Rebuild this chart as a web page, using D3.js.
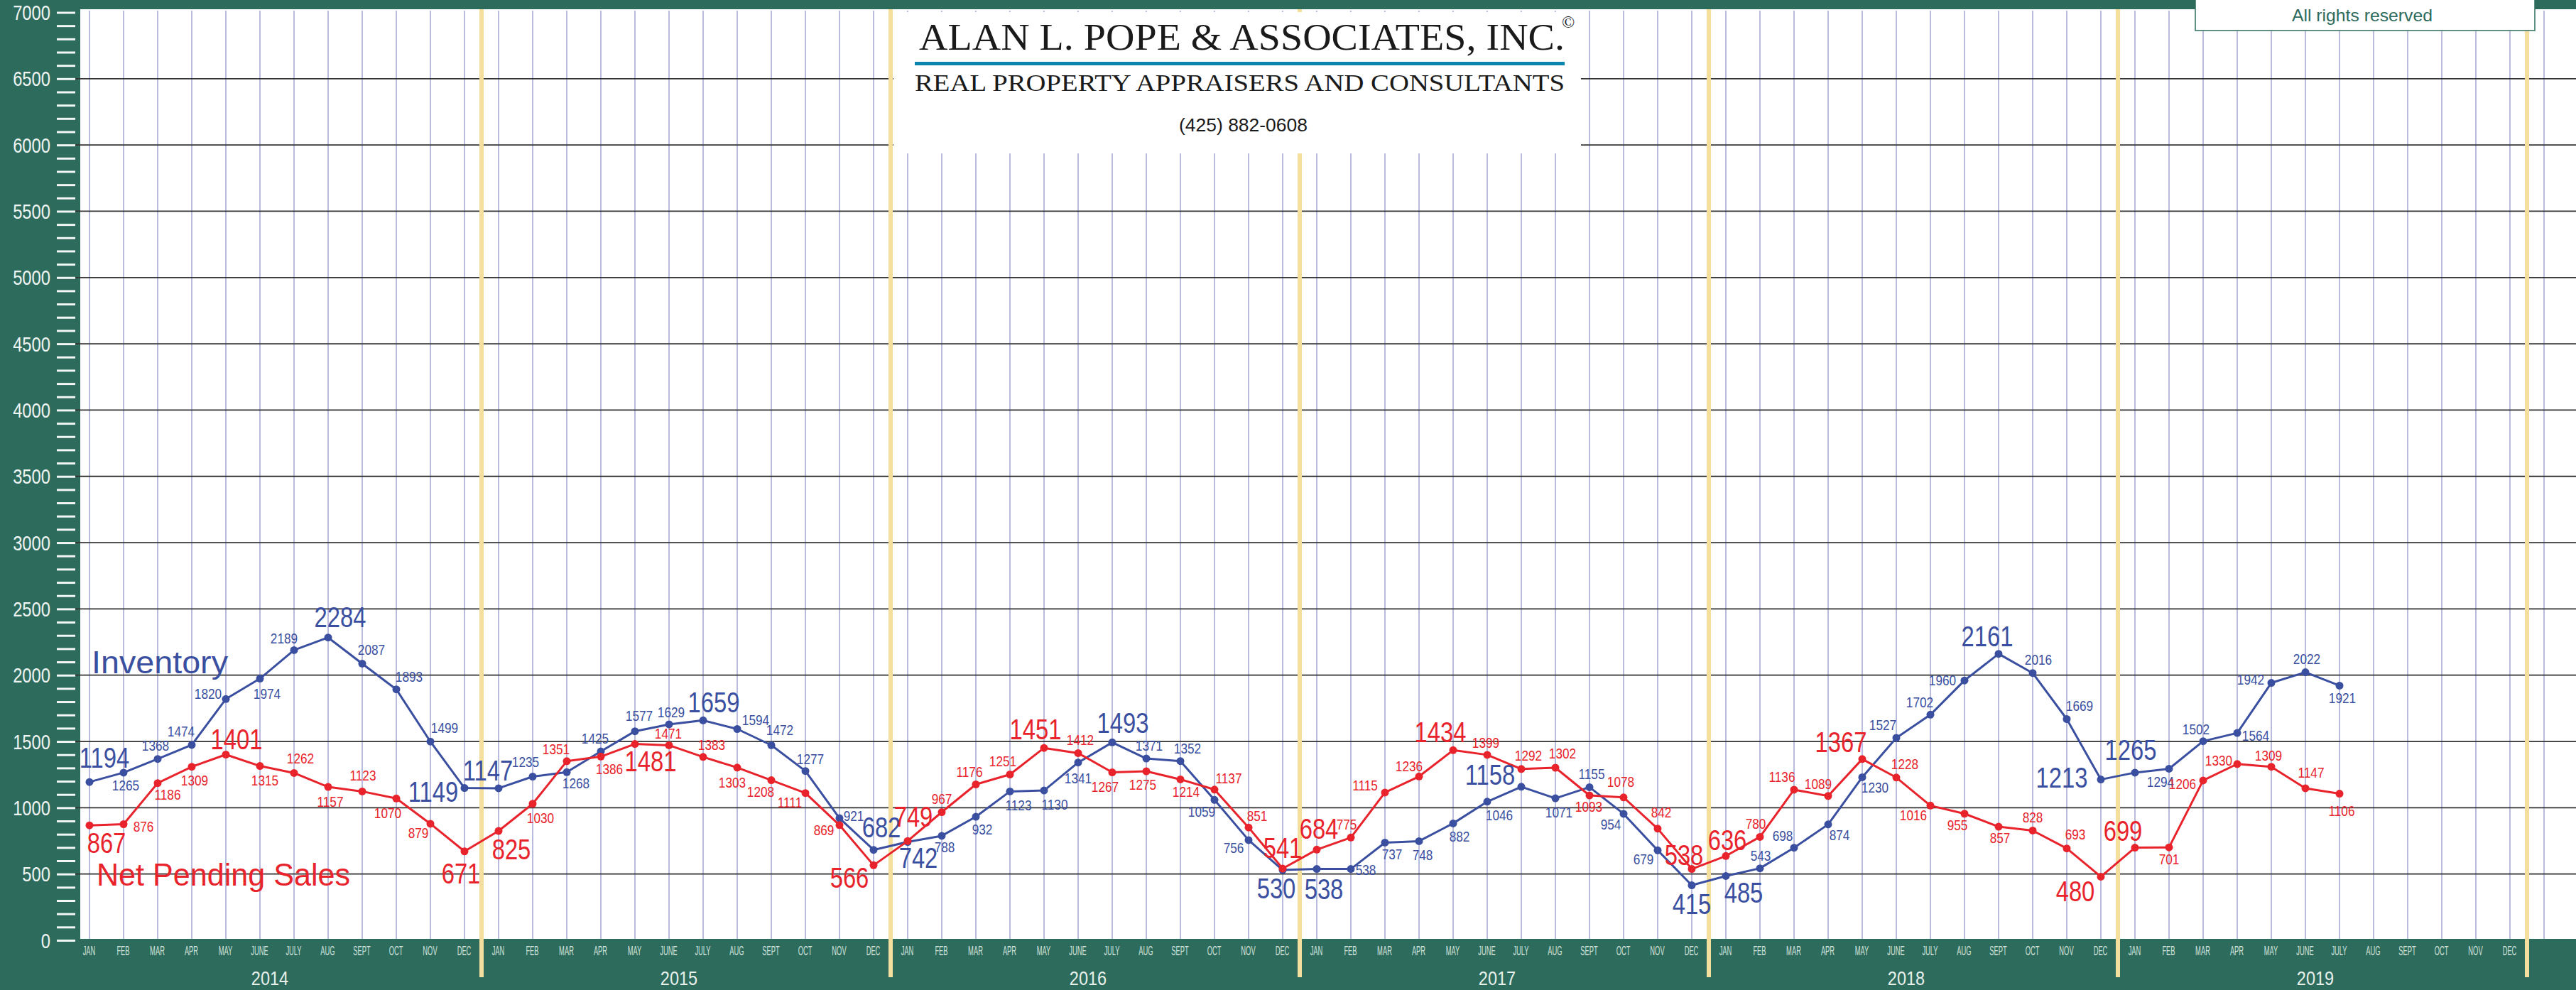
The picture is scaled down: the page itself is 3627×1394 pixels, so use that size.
<!DOCTYPE html>
<html><head><meta charset="utf-8">
<script src="https://cdn.jsdelivr.net/npm/d3@7"></script>
<style>html,body{margin:0;padding:0;background:#2d6b5c;overflow:hidden}svg{display:block}</style>
</head><body>
<svg id="chart" width="3627" height="1394"></svg>
<script>
// ---------------- DATA ----------------
const years = ["2014", "2015", "2016", "2017", "2018", "2019"];
const monthNames = ["JAN","FEB","MAR","APR","MAY","JUNE","JULY","AUG","SEPT","OCT","NOV","DEC"];
const yTickValues = d3.range(0, 7001, 100);
const yLabelValues = d3.range(0, 7001, 500);

// Inventory, Jan 2014 - Jul 2019
const inventory = [
  1194,1265,1368,1474,1820,1974,2189,2284,2087,1893,1499,1149,
  1147,1235,1268,1425,1577,1629,1659,1594,1472,1277,921,682,
  742,788,932,1123,1130,1341,1493,1371,1352,1059,756,530,
  538,538,737,748,882,1046,1158,1071,1155,954,679,415,
  485,543,698,874,1230,1527,1702,1960,2161,2016,1669,1213,
  1265,1294,1502,1564,1942,2022,1921
];
// Net Pending Sales, Jan 2014 - Jul 2019
const netPending = [
  867,876,1186,1309,1401,1315,1262,1157,1123,1070,879,671,
  825,1030,1351,1386,1481,1471,1383,1303,1208,1111,869,566,
  749,967,1176,1251,1451,1412,1267,1275,1214,1137,851,541,
  684,775,1115,1236,1434,1399,1292,1302,1093,1078,842,538,
  636,780,1136,1089,1367,1228,1016,955,857,828,693,480,
  699,701,1206,1330,1309,1147,1106
];
// months whose value label is printed large
const inventoryBig = [0,7,11,12,18,23,24,30,35,36,42,47,48,56,59,60];
const netPendingBig = [0,4,11,12,16,23,24,28,35,36,40,47,48,52,59,60];

// ---------------- LABEL LAYOUT (offsets from the point) ----------------
const inventoryLabelOffsets = [
  [21,-20],[3,25],[-3,-12],[-15,-12],[-25,0],[10,28],[-14,-9],[17,-15],[13,-12],[18,-11],[20,-12],[-44,19],
  [-15,-11],[-10,-13],[13,23],[-8,-11],[6,-15],[3,-10],[15,-11],[26,-5],[12,-14],[7,-10],[20,4],[11,-18],
  [15,36],[4,23],[9,25],[12,27],[15,27],[0,29],[15,-13],[4,-11],[10,-11],[-18,24],[-21,18],[-9,40],
  [10,42],[21,8],[10,24],[5,27],[9,26],[17,26],[-44,-3],[5,27],[3,-11],[-18,22],[-20,20],[0,40],
  [25,38],[1,-11],[-16,-10],[16,22],[18,22],[-19,-11],[-15,-10],[-31,7],[-16,-11],[8,-12],[18,-11],[-55,11],
  [-6,-18],[-12,26],[-10,-10],[26,11],[-29,2],[2,-12],[4,25]
];
const netPendingLabelOffsets = [
  [24,39],[28,10],[14,23],[4,26],[15,-8],[7,27],[9,-13],[3,28],[1,-15],[-12,28],[-17,20],[-5,45],
  [18,40],[11,27],[-15,-10],[12,25],[22,38],[-1,-9],[12,-10],[-7,28],[-15,23],[-22,20],[-22,14],[-34,32],
  [8,-20],[0,-12],[-9,-11],[-10,-12],[-12,-12],[3,-11],[-10,27],[-5,26],[8,25],[20,-9],[12,-9],[0,-15],
  [3,-15],[-6,-11],[-28,-3],[-14,-7],[-18,-11],[-2,-10],[10,-12],[10,-13],[-1,23],[-4,-15],[5,-16],[-11,-6],
  [2,-8],[-6,-11],[-17,-11],[-14,-10],[-30,-10],[12,-12],[-24,21],[-10,23],[2,23],[0,-11],[12,-13],[-36,35],
  [-17,-10],[0,24],[-29,12],[-26,2],[-4,-9],[8,-15],[3,31]
];

// ---------------- STYLE ----------------
const W = 3627, H = 1394;
const GREEN = "#2d6b5c";
const BLUE = "#3a4fa0";
const RED = "#e8232b";
const YELLOW = "#f5df9f";
const GRIDV = "#a7abd6";
const SANS = "'Liberation Sans', Arial, sans-serif";
const SERIF = "'Liberation Serif', 'Times New Roman', serif";
const plotLeft = 113, plotTop = 13, plotBottom = 1322;

const svg = d3.select("#chart");
const nMonths = years.length * 12;

const x = d3.scaleLinear().domain([0, nMonths - 1]).range([126, 3534]);
const y = d3.scaleLinear().domain([0, 7000]).range([1324, 17.5]);

// background
svg.append("rect").attr("width", W).attr("height", H).attr("fill", GREEN);
svg.append("rect").attr("x", plotLeft).attr("y", plotTop)
  .attr("width", W - plotLeft).attr("height", plotBottom - plotTop).attr("fill", "#fff");

// vertical month grid
svg.append("g").selectAll("line").data(d3.range(0, nMonths + 1)).join("line")
  .attr("x1", d => x(d)).attr("x2", d => x(d))
  .attr("y1", 15).attr("y2", plotBottom)
  .attr("stroke", GRIDV).attr("stroke-width", 1.6);

// horizontal grid
svg.append("g").selectAll("line").data(yLabelValues.filter(v => v > 0 && v < 7000)).join("line")
  .attr("x1", 105).attr("x2", W)
  .attr("y1", d => y(d)).attr("y2", d => y(d))
  .attr("stroke", "#333").attr("stroke-width", 1.8);

// year separators
svg.append("g").selectAll("line").data(d3.range(1, years.length + 1)).join("line")
  .attr("x1", d => x(d * 12 - 0.5)).attr("x2", d => x(d * 12 - 0.5))
  .attr("y1", plotTop).attr("y2", 1376)
  .attr("stroke", YELLOW).attr("stroke-width", 6);

// bottom axis: month labels
const xAxis = d3.axisBottom(x)
  .tickValues(d3.range(0, nMonths))
  .tickSize(0)
  .tickFormat(i => monthNames[i % 12]);
const gx = svg.append("g").attr("transform", `translate(0,${plotBottom})`).call(xAxis);
gx.select(".domain").remove();
gx.selectAll("text")
  .attr("y", null).attr("dy", null)
  .attr("transform", "translate(-1,23) scale(0.52,1)")
  .attr("font-family", SANS).attr("font-size", 18).attr("fill", "#d3e3dd");

// year labels
svg.append("g").selectAll("text").data(years).join("text")
  .attr("transform", (d, k) => `translate(${(x(k * 12) + x(k * 12 + 11)) / 2 - 10},1387) scale(0.84,1)`)
  .attr("text-anchor", "middle").attr("font-family", SANS).attr("font-size", 28)
  .attr("fill", "#e8f0ec").text(d => d);

// left axis
const yAxis = d3.axisLeft(y).tickValues(yTickValues).tickSize(26)
  .tickFormat(v => v % 500 === 0 ? String(v) : "");
const gy = svg.append("g").attr("transform", "translate(106,0)").call(yAxis);
gy.select(".domain").remove();
gy.selectAll(".tick line").attr("stroke", "#f2f6f4").attr("stroke-width", 3);
gy.selectAll(".tick text")
  .attr("x", null).attr("dy", null)
  .attr("transform", "translate(-35,10) scale(0.82,1)")
  .attr("text-anchor", "end")
  .attr("font-family", SANS).attr("font-size", 29).attr("fill", "#eef4f1");

// series
const line = d3.line().x((d, i) => x(i)).y(d => y(d));
function drawSeries(vals, color) {
  svg.append("path").datum(vals).attr("d", line)
    .attr("fill", "none").attr("stroke", color).attr("stroke-width", 3).attr("stroke-linejoin", "round");
  svg.append("g").selectAll("circle").data(vals).join("circle")
    .attr("cx", (d, i) => x(i)).attr("cy", d => y(d)).attr("r", 5.5).attr("fill", color);
}
function drawLabels(vals, offs, big, color) {
  svg.append("g").selectAll("text").data(vals).join("text")
    .attr("transform", (d, i) => `translate(${x(i) + offs[i][0]},${y(d) + offs[i][1]}) scale(0.82,1)`)
    .attr("text-anchor", "middle")
    .attr("font-family", SANS)
    .attr("font-size", (d, i) => big.includes(i) ? 40 : 21)
    .attr("fill", color).text(d => d);
}
drawSeries(inventory, BLUE);
drawSeries(netPending, RED);
drawLabels(inventory, inventoryLabelOffsets, inventoryBig, BLUE);
drawLabels(netPending, netPendingLabelOffsets, netPendingBig, RED);

// series names
svg.append("text").attr("x", 129).attr("y", 948)
  .attr("font-family", SANS).attr("font-size", 45).attr("fill", BLUE)
  .attr("textLength", 192).attr("lengthAdjust", "spacingAndGlyphs").text("Inventory");
svg.append("text").attr("x", 136).attr("y", 1247)
  .attr("font-family", SANS).attr("font-size", 45).attr("fill", RED)
  .attr("textLength", 357).attr("lengthAdjust", "spacingAndGlyphs").text("Net Pending Sales");

// title box
const tb = svg.append("g");
tb.append("rect").attr("x", 1258).attr("y", 17).attr("width", 968).attr("height", 199).attr("fill", "#fff");
tb.append("text").attr("x", 1294).attr("y", 70)
  .attr("font-family", SERIF).attr("font-size", 53).attr("fill", "#1a1a1a")
  .attr("textLength", 909).attr("lengthAdjust", "spacingAndGlyphs")
  .text("ALAN L. POPE & ASSOCIATES, INC.");
tb.append("text").attr("x", 2208).attr("y", 39).attr("text-anchor", "middle")
  .attr("font-family", SERIF).attr("font-size", 24).attr("fill", "#1a1a1a").text("©");
tb.append("rect").attr("x", 1288).attr("y", 87).attr("width", 915).attr("height", 5).attr("fill", "#0b84b0");
tb.append("text").attr("x", 1288).attr("y", 128)
  .attr("font-family", SERIF).attr("font-size", 33).attr("fill", "#1a1a1a")
  .attr("textLength", 915).attr("lengthAdjust", "spacingAndGlyphs")
  .text("REAL PROPERTY APPRAISERS AND CONSULTANTS");
tb.append("text").attr("x", 1660).attr("y", 185)
  .attr("font-family", SANS).attr("font-size", 25).attr("fill", "#1a1a1a")
  .attr("textLength", 181).attr("lengthAdjust", "spacingAndGlyphs")
  .text("(425) 882-0608");

// rights box
svg.append("rect").attr("x", 3091).attr("y", -2).attr("width", 478).attr("height", 45)
  .attr("fill", "#fff").attr("stroke", GREEN).attr("stroke-width", 1.5);
svg.append("text").attr("x", 3227).attr("y", 30)
  .attr("font-family", SANS).attr("font-size", 24).attr("fill", GREEN)
  .attr("textLength", 198).attr("lengthAdjust", "spacingAndGlyphs")
  .text("All rights reserved");
</script>
</body></html>
